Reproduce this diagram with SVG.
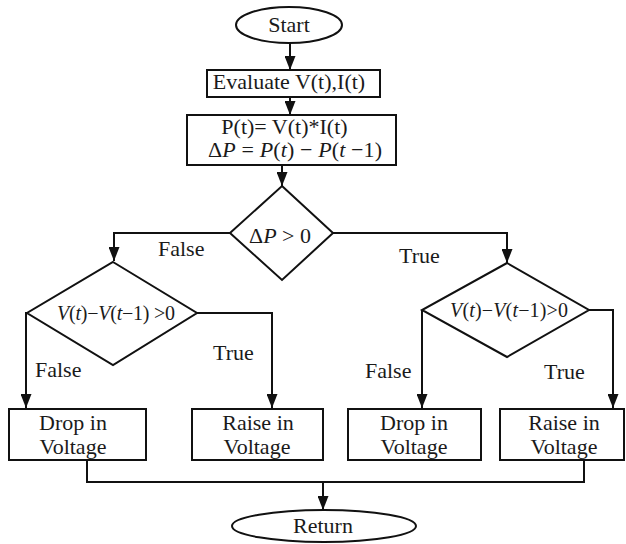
<svg xmlns="http://www.w3.org/2000/svg" width="626" height="544" viewBox="0 0 626 544">
  <defs>
    <marker id="arrow" markerUnits="userSpaceOnUse" markerWidth="14" markerHeight="11" refX="14" refY="5.5" orient="auto">
      <path d="M0,0 L14,5.5 L0,11 z" fill="#111"/>
    </marker>
    <style>
      .shape { fill: #fff; stroke: #111; stroke-width: 2; }
      .wire { fill: none; stroke: #111; stroke-width: 2; }
      .arrow { marker-end: url(#arrow); }
      text { font-family: 'Liberation Serif', 'DejaVu Serif', serif; font-size: 22px; fill: #1a1a1a; }
      .mid { text-anchor: middle; }
      .it { font-style: italic; }
      .formula { font-size: 20px; }
    </style>
  </defs>
  <rect width="626" height="544" fill="#fff"/>

  <!-- connectors -->
  <g id="connectors">
    <path class="wire arrow" d="M290,43 V70"/>
    <path class="wire arrow" d="M290,97 V115"/>
    <path class="wire arrow" d="M282,165 V186"/>
    <path class="wire arrow" d="M230,233 H114 V261"/>
    <path class="wire arrow" d="M333,233 H507 V263"/>
    <path class="wire arrow" d="M27,313 H26 V408"/>
    <path class="wire arrow" d="M197,313 H272 V408"/>
    <path class="wire arrow" d="M422,310 V408"/>
    <path class="wire arrow" d="M589,310 H613 V408"/>
    <path class="wire" d="M87,460 V482 H584 V460"/>
    <path class="wire arrow" d="M323,482 V510"/>
    <text x="158" y="256">False</text>
    <text x="399" y="263">True</text>
    <text x="35" y="377">False</text>
    <text x="213" y="360">True</text>
    <text x="365" y="378">False</text>
    <text x="544" y="379">True</text>
  </g>

  <g id="start">
    <ellipse class="shape" cx="289" cy="25" rx="53" ry="18"/>
    <text class="mid" x="289" y="32">Start</text>
  </g>

  <g id="evaluate">
    <rect class="shape" x="207" y="70" width="173" height="27"/>
    <text class="mid" x="289" y="89">Evaluate V(t),I(t)</text>
  </g>

  <g id="power">
    <rect class="shape" x="187" y="115" width="209" height="50"/>
    <text class="mid" x="284.5" y="134">P(t)= V(t)*I(t)</text>
    <text class="mid" x="295" y="157" textLength="174">Δ<tspan class="it">P</tspan> = <tspan class="it">P</tspan>(<tspan class="it">t</tspan>) − <tspan class="it">P</tspan>(<tspan class="it">t</tspan> −1)</text>
  </g>

  <g id="delta-check">
    <polygon class="shape" points="282,186 333,233 282,280 230,233"/>
    <text class="mid" x="280" y="243">Δ<tspan class="it">P</tspan> &gt; 0</text>
  </g>

  <g id="voltage-check-left">
    <polygon class="shape" points="113,262 197,313 113,365 27,313"/>
    <text class="mid formula" x="116" y="320" textLength="118"><tspan class="it">V</tspan>(<tspan class="it">t</tspan>)−<tspan class="it">V</tspan>(<tspan class="it">t</tspan>−1) &gt;0</text>
  </g>

  <g id="voltage-check-right">
    <polygon class="shape" points="507,263 589,310 507,357 422,310"/>
    <text class="mid formula" x="509" y="317" textLength="118"><tspan class="it">V</tspan>(<tspan class="it">t</tspan>)−<tspan class="it">V</tspan>(<tspan class="it">t</tspan>−1)&gt;0</text>
  </g>

  <g id="drop-left">
    <rect class="shape" x="9" y="409" width="137" height="51"/>
    <text class="mid" x="73" y="430">Drop in</text>
    <text class="mid" x="73" y="454">Voltage</text>
  </g>

  <g id="raise-left">
    <rect class="shape" x="192" y="409" width="131" height="51"/>
    <text class="mid" x="258" y="430">Raise in</text>
    <text class="mid" x="257" y="454">Voltage</text>
  </g>

  <g id="drop-right">
    <rect class="shape" x="348" y="409" width="133" height="51"/>
    <text class="mid" x="414" y="430">Drop in</text>
    <text class="mid" x="414" y="454">Voltage</text>
  </g>

  <g id="raise-right">
    <rect class="shape" x="500" y="409" width="124" height="51"/>
    <text class="mid" x="564" y="430">Raise in</text>
    <text class="mid" x="564" y="454">Voltage</text>
  </g>

  <g id="return">
    <ellipse class="shape" cx="324" cy="526" rx="92" ry="16"/>
    <text class="mid" x="323" y="533">Return</text>
  </g>
</svg>
